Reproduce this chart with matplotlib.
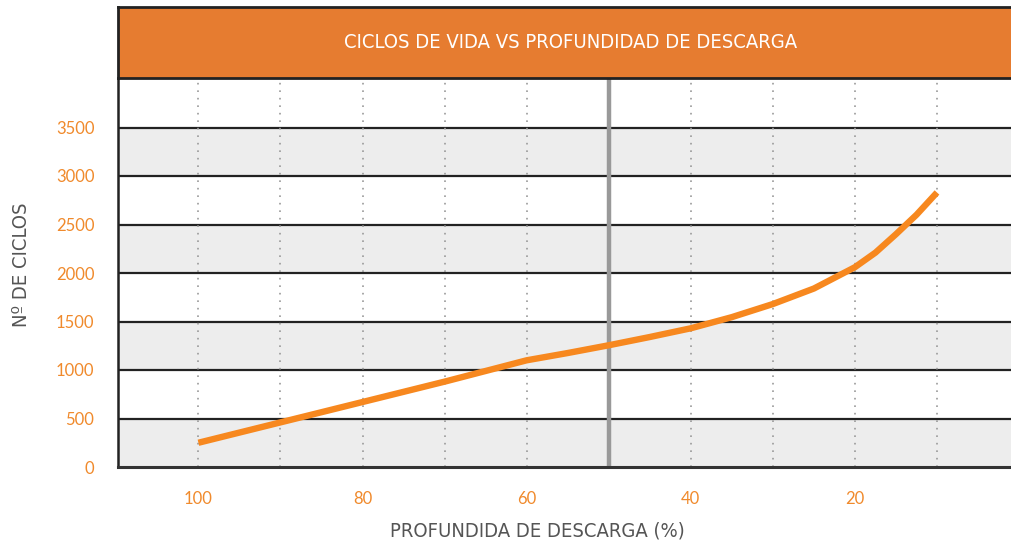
"""Cycle life vs depth of discharge chart."""
import numpy as np
import matplotlib.pyplot as plt

# depth of discharge (%) and number of cycles
dod    = [100, 95, 90, 85, 80, 75, 70, 65, 60, 55, 50, 45, 40, 35, 30, 25,
          20, 17.5, 15, 12.5, 10]
cycles = [250, 355, 460, 565, 670, 775, 880, 990, 1100, 1175, 1255, 1340, 1430,
          1545, 1680, 1840, 2060, 2210, 2400, 2600, 2830]

grid_x   = [100, 90, 80, 70, 60, 50, 40, 30, 20, 10]
xticks   = [100, 80, 60, 40, 20]
yticks   = [0, 500, 1000, 1500, 2000, 2500, 3000, 3500]
marker_x = 50

TITLE  = "CICLOS DE VIDA VS PROFUNDIDAD DE DESCARGA"
XLABEL = "PROFUNDIDA DE DESCARGA (%)"
YLABEL = "Nº DE CICLOS"

ORANGE = "#E67C30"
LINE   = "#F7881F"
TICK   = "#F08A2C"
BAND   = "#EDEDED"
GREY   = "#555555"
COND   = dict(family="DejaVu Sans", stretch="condensed")

W, H = 1012, 551
fig = plt.figure(figsize=(W / 100, H / 100), dpi=100)
ax = fig.add_axes([118 / W, (H - 467) / H, (W - 118) / W, (467 - 79) / H])

# alternating bands
for lo in range(0, 4000, 500):
    if (lo // 500) % 2 == 0:
        ax.axhspan(lo, lo + 500, color=BAND, zorder=0, lw=0)
for y in yticks[1:]:
    ax.axhline(y, color="#222222", lw=1.6, zorder=1)
for x in grid_x:
    ax.axvline(x, color="#9a9a9a", lw=1.2, ls=(0, (1, 3.5)), zorder=1)
ax.axvline(marker_x, color="#999999", lw=3.2, zorder=2)

ax.plot(dod, cycles, color=LINE, lw=4.6, solid_capstyle="butt",
        solid_joinstyle="round", zorder=3)

ax.set_xlim(109.8, 0.86)
ax.set_ylim(0, 4000)
ax.set_xticks(xticks)
ax.set_yticks(yticks)
ax.set_xticklabels([str(v) for v in xticks], color=TICK, fontsize=12,
                   family="Lato")
ax.set_yticklabels([str(v) for v in yticks], color=TICK, fontsize=12,
                   family="Lato")
ax.tick_params(length=0, pad=17)
for s in ["top", "right"]:
    ax.spines[s].set_visible(False)
ax.spines["left"].set_color("#222222")
ax.spines["left"].set_linewidth(1.8)
ax.spines["bottom"].set_color("#333333")
ax.spines["bottom"].set_linewidth(2.2)

fig.text(537 / W, 1 - 531 / H, XLABEL, color=GREY, fontsize=14.5,
         ha="center", va="center", **COND)
fig.text(22 / W, 1 - 265 / H, YLABEL, color=GREY, fontsize=14.5, rotation=90,
         ha="center", va="center", **COND)

# title bar
tb = fig.add_axes([118 / W, (H - 78) / H, (W - 118) / W, 71 / H])
tb.set_facecolor(ORANGE)
tb.set_xticks([])
tb.set_yticks([])
for s, sp in tb.spines.items():
    sp.set_color("#222222")
    sp.set_linewidth(2.0)
tb.spines["right"].set_visible(False)
tb.text((571 - 118) / (W - 118), 0.5, TITLE, color="white",
        fontsize=14.5, ha="center", va="center", transform=tb.transAxes,
        **COND)

fig.savefig("out.png", dpi=100)
